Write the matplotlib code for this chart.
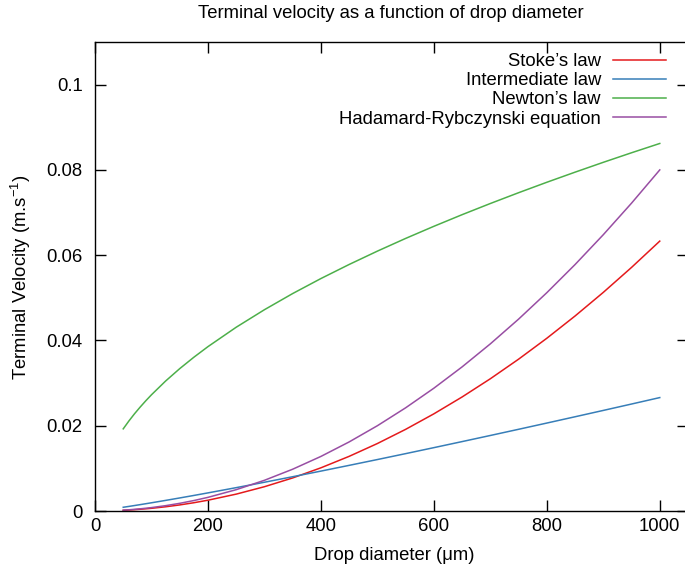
import matplotlib
matplotlib.use("Agg")
import matplotlib.pyplot as plt

plt.rcParams['font.family'] = ['Liberation Sans', 'DejaVu Sans']

# drop diameter in micrometres (finer steps for small drops)
diameter = [50, 60, 70, 80, 90, 100, 125, 150, 175, 200,
            250, 300, 350, 400, 450, 500, 550, 600, 650, 700,
            750, 800, 850, 900, 950, 1000]

# terminal velocity in m/s
stokes = [0.000158, 0.000228, 0.000310, 0.000405, 0.000513, 0.000633, 0.000989,
          0.001424, 0.001939, 0.002532,
          0.003956, 0.005697, 0.007754, 0.010128, 0.012818, 0.015825, 0.019148,
          0.022788, 0.026744, 0.031017, 0.035606, 0.040512, 0.045734, 0.051273,
          0.057128, 0.0633]
intermediate = [0.000875, 0.001076, 0.001283, 0.001494, 0.001709, 0.001927, 0.002486,
                0.003059, 0.003647, 0.004248,
                0.005477, 0.006743, 0.008039, 0.009358, 0.010704, 0.012068, 0.013454,
                0.014859, 0.016279, 0.017713, 0.019163, 0.020626, 0.022102, 0.023589,
                0.025089, 0.0266]
newton = [0.01927, 0.02111, 0.02281, 0.02438, 0.02586, 0.02726, 0.03048,
          0.03339, 0.03606, 0.03855,
          0.0431, 0.04721, 0.05100, 0.05452, 0.05782, 0.06095, 0.06393,
          0.06677, 0.06950, 0.07212, 0.07465, 0.07710, 0.07947, 0.08178,
          0.08402, 0.0862]
hadamard = [0.0002, 0.000288, 0.000392, 0.000512, 0.000648, 0.0008, 0.00125,
            0.0018, 0.00245, 0.0032,
            0.005, 0.0072, 0.0098, 0.0128, 0.0162, 0.02, 0.0242,
            0.0288, 0.0338, 0.0392, 0.045, 0.0512, 0.0578, 0.0648,
            0.0722, 0.08]

x_ticks = [0, 200, 400, 600, 800, 1000]
y_ticks = [0, 0.02, 0.04, 0.06, 0.08, 0.1]
y_tick_labels = ["0", "0.02", "0.04", "0.06", "0.08", "0.1"]

FS = 13.3
W, H = 685, 571
fig = plt.figure(figsize=(W / 100, H / 100), dpi=100)
ax = fig.add_axes([95 / W, (H - 511) / H, 593 / W, 469 / H])

ax.plot(diameter, stokes, color='#e41a1c', lw=1.1, label="Stoke\u2019s law")
ax.plot(diameter, intermediate, color='#377eb8', lw=1.1, label="Intermediate law")
ax.plot(diameter, newton, color='#4daf4a', lw=1.1, label="Newton\u2019s law")
ax.plot(diameter, hadamard, color='#984ea3', lw=1.1, label="Hadamard-Rybczynski equation")

ax.set_xlim(0, 1050)
ax.set_ylim(0, 0.11)
ax.set_xticks(x_ticks)
ax.set_yticks(y_ticks)
ax.set_yticklabels(y_tick_labels)
ax.tick_params(direction='in', length=8, width=1, top=True, right=True,
               labelsize=FS)
ax.tick_params(axis='x', pad=5)
ax.tick_params(axis='y', pad=9)
for s in ax.spines.values():
    s.set_linewidth(1)

fig.text(394 / W, 1 - 555 / H, "Drop diameter (\u03bcm)",
         ha='center', va='center', fontsize=FS)
fig.text(21 / W, 1 - 277 / H, "Terminal Velocity (m.s$^{\\mathregular{-1}}$)",
         ha='center', va='center', rotation=90, fontsize=FS)
fig.text(391 / W, 1 - 14 / H, "Terminal velocity as a function of drop diameter",
         ha='center', va='center', fontsize=FS)

ax.legend(loc='upper right', bbox_to_anchor=(666 / W, 1 - 53 / H),
          bbox_transform=fig.transFigure, frameon=False, markerfirst=False,
          borderpad=0, borderaxespad=0, handlelength=2.87, handletextpad=0.65,
          labelspacing=0.12, fontsize=FS)

fig.savefig("out.png", dpi=100)
